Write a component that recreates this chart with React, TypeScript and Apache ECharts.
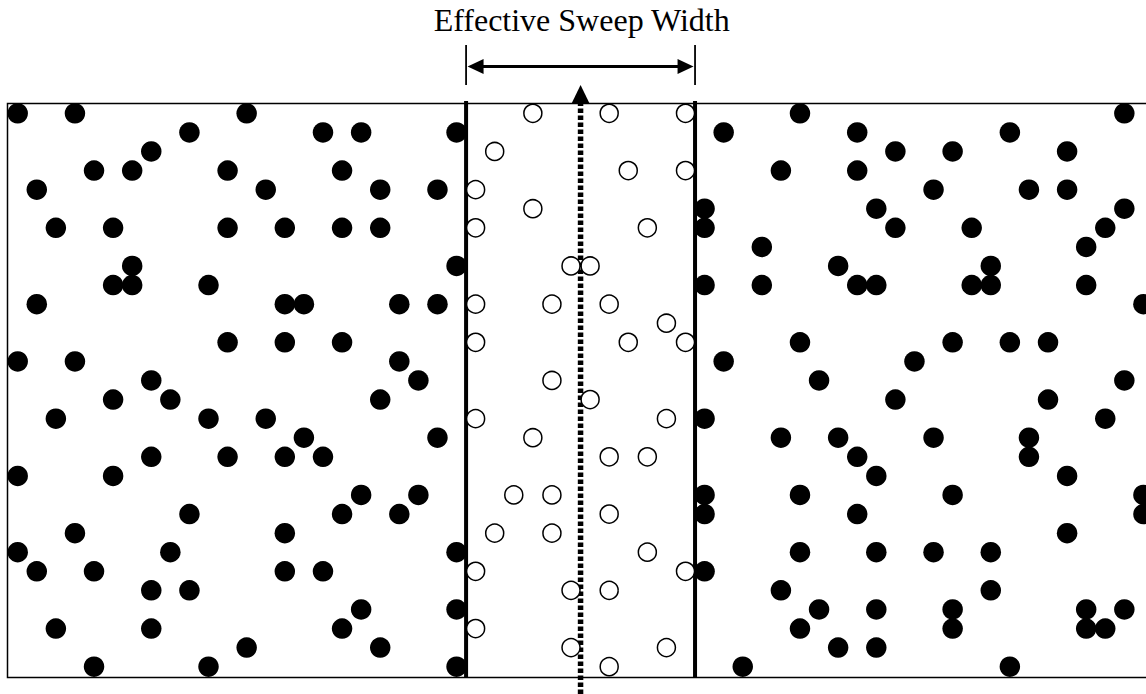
import React, { useEffect, useRef } from "react";
import * as echarts from "echarts";

// Lattice column indices of dots for each row (row index = position in array)
const filledRows: number[][] = [
  [0, 3, 12, 41, 58],
  [9, 16, 18, 23, 37, 44, 52],
  [7, 46, 49, 55],
  [4, 6, 11, 17, 40, 44],
  [1, 13, 19, 22, 48, 53, 55],
  [36, 45, 58],
  [2, 5, 11, 14, 17, 19, 36, 46, 50, 57],
  [39, 56],
  [6, 23, 43, 51],
  [5, 6, 10, 36, 39, 44, 45, 50, 51, 56],
  [1, 14, 15, 20, 22, 59],
  [],
  [11, 14, 17, 41, 49, 52, 54],
  [0, 3, 20, 37, 47],
  [7, 21, 42, 58],
  [5, 8, 19, 46, 54],
  [2, 10, 13, 36, 57],
  [15, 22, 40, 43, 48, 53],
  [7, 11, 14, 16, 44, 53],
  [0, 5, 45, 55],
  [18, 21, 36, 41, 49, 59],
  [9, 17, 20, 36, 44, 59],
  [3, 14, 55],
  [0, 8, 23, 41, 45, 48, 51],
  [1, 4, 14, 16, 36],
  [7, 9, 40, 51],
  [18, 23, 42, 45, 49, 56, 58],
  [2, 7, 17, 41, 49, 56, 57],
  [12, 19, 43, 45],
  [4, 10, 23, 38, 52],
];

const openRows: number[][] = [
  [27, 31, 35],
  [],
  [25],
  [32, 35],
  [24],
  [27],
  [24, 33],
  [],
  [29, 30],
  [],
  [24, 28, 31],
  [34],
  [24, 32, 35],
  [],
  [28],
  [30],
  [24, 34],
  [27],
  [31, 33],
  [],
  [26, 28],
  [31],
  [25, 28],
  [33],
  [24, 35],
  [29, 31],
  [],
  [24],
  [29, 34],
  [31],
];

const sweepEdges: number[] = [23.5, 35.5];
const trackX = 29.5;
const titleText = "Effective Sweep Width";

// layout (pixels)
const X0 = 17.7;
const DX = 19.08;
const Y0 = 113.3;
const DY = 19.083;
const GRID_LEFT = 7.5;
const GRID_RIGHT_PX = 1160;
const GRID_TOP = 103.5;
const GRID_BOTTOM_PX = 677.5;

const X_MIN = (GRID_LEFT - X0) / DX;
const X_MAX = (GRID_RIGHT_PX - X0) / DX;
const Y_MIN = (GRID_TOP - Y0) / DY;
const Y_MAX = (GRID_BOTTOM_PX - Y0) / DY;

function toPoints(rows: number[][]): number[][] {
  const pts: number[][] = [];
  rows.forEach((r, j) => r.forEach((i) => pts.push([i, j])));
  return pts;
}

export default function App() {
  const ref = useRef<HTMLDivElement>(null);
  useEffect(() => {
    if (!ref.current) return;
    const chart = echarts.init(ref.current, null, { renderer: "svg" });
    const option: any = {
      animation: false,
      backgroundColor: "#fff",
      grid: {
        left: GRID_LEFT,
        top: GRID_TOP,
        width: GRID_RIGHT_PX - GRID_LEFT,
        height: GRID_BOTTOM_PX - GRID_TOP,
        outerBoundsMode: "none",
        containLabel: false,
        show: true,
        borderColor: "#000",
        borderWidth: 1.5,
        backgroundColor: "transparent",
      },
      xAxis: { type: "value", min: X_MIN, max: X_MAX, show: false },
      yAxis: { type: "value", min: Y_MIN, max: Y_MAX, inverse: true, show: false },
      graphic: [
        {
          type: "text",
          x: 581.7,
          y: 19.5,
          style: {
            text: titleText,
            fontSize: 32,
            fontFamily: '"Liberation Serif", "Times New Roman", serif',
            fill: "#000",
            align: "center",
            verticalAlign: "middle",
          },
        },
      ],
      series: [
        {
          type: "scatter",
          name: "detected",
          data: toPoints(filledRows),
          symbol: "circle",
          symbolSize: 20.5,
          clip: false,
          itemStyle: { color: "#000", opacity: 1 },
          silent: true,
        },
        {
          type: "scatter",
          name: "open",
          data: toPoints(openRows),
          symbol: "circle",
          symbolSize: 18,
          clip: false,
          itemStyle: { color: "#fff", borderColor: "#000", borderWidth: 1.5, opacity: 1 },
          silent: true,
        },
        {
          type: "custom",
          name: "annotations",
          data: [[0, 0]],
          clip: false,
          silent: true,
          renderItem: (params: any, api: any) => {
            const children: any[] = [];
            const topPx = api.coord([0, Y_MIN])[1];
            const botPx = api.coord([0, Y_MAX])[1];
            const ex = sweepEdges.map((e) => api.coord([e, 0])[0]);
            // thick edge lines
            ex.forEach((x) => {
              children.push({
                type: "line",
                shape: { x1: x, y1: topPx - 2.5, x2: x, y2: botPx },
                style: { stroke: "#000", lineWidth: 4 },
              });
            });
            // dotted track line
            const tx = api.coord([trackX, 0])[0];
            children.push({
              type: "line",
              shape: { x1: tx, y1: 694, x2: tx, y2: topPx },
              style: { stroke: "#000", lineWidth: 5.5, lineDash: [4.5, 2.5] },
            });
            children.push({
              type: "polygon",
              shape: { points: [[tx, topPx - 18.5], [tx - 9, topPx], [tx + 9, topPx]] },
              style: { fill: "#000" },
            });
            // sweep width dimension
            const ay = 66.5;
            ex.forEach((x) => {
              children.push({
                type: "line",
                shape: { x1: x, y1: 45, x2: x, y2: 85 },
                style: { stroke: "#000", lineWidth: 1.8 },
              });
            });
            children.push({
              type: "line",
              shape: { x1: ex[0] + 10, y1: ay, x2: ex[1] - 10, y2: ay },
              style: { stroke: "#000", lineWidth: 3 },
            });
            children.push({
              type: "polygon",
              shape: { points: [[ex[0] + 1.5, ay], [ex[0] + 17.5, ay - 7.5], [ex[0] + 17.5, ay + 7.5]] },
              style: { fill: "#000" },
            });
            children.push({
              type: "polygon",
              shape: { points: [[ex[1] - 1.5, ay], [ex[1] - 17.5, ay - 7.5], [ex[1] - 17.5, ay + 7.5]] },
              style: { fill: "#000" },
            });
            return { type: "group", children };
          },
        },
      ],
    };
    chart.setOption(option);
    return () => chart.dispose();
  }, []);
  return (
    <div
      ref={ref}
      style={{ position: "absolute", left: 0, top: 0, width: 1146, height: 694 }}
    />
  );
}
